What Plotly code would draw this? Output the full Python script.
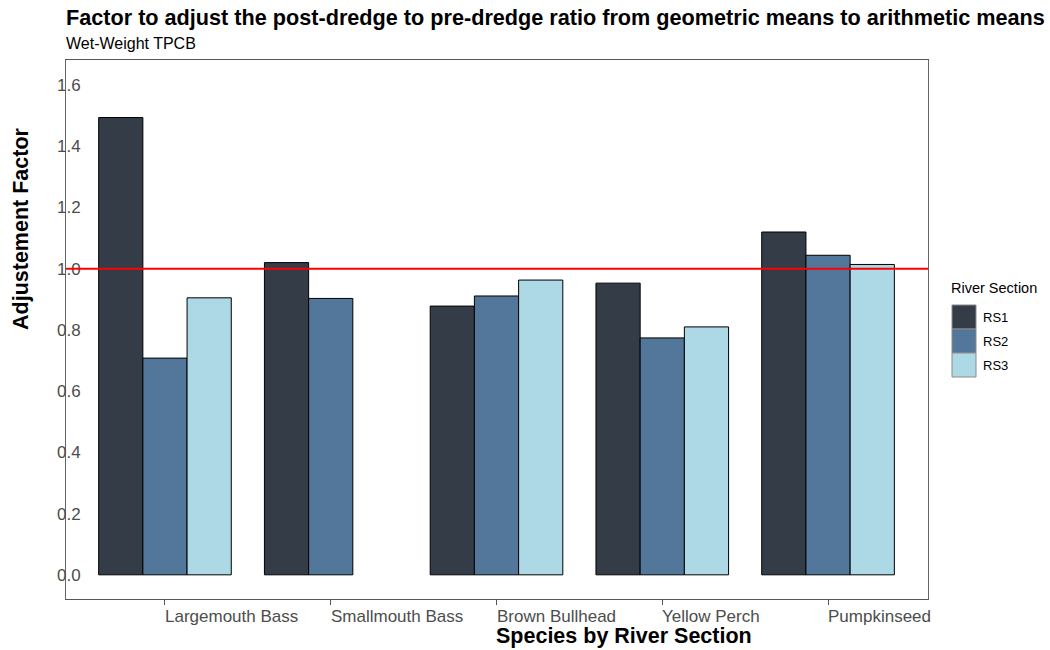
import plotly.graph_objects as go

# Adjustment factors (geometric -> arithmetic) by species and river section
species = ["Largemouth Bass", "Smallmouth Bass", "Brown Bullhead", "Yellow Perch", "Pumpkinseed"]
sections = ["RS1", "RS2", "RS3"]
rs1 = [1.494, 1.020, 0.878, 0.953, 1.120]
rs2 = [0.708, 0.903, 0.911, 0.774, 1.044]
rs3 = [0.905, None, 0.963, 0.810, 1.014]
colors = ["#343d47", "#52779a", "#add8e6"]
y_ticks = [0.0, 0.2, 0.4, 0.6, 0.8, 1.0, 1.2, 1.4, 1.6]
reference_level = 1.0

W, H = 1050, 650
ML, MR, MT, MB = 66, 122, 60, 51
PW, PH = W - ML - MR, H - MT - MB


def px_x(p):
    return (p - ML) / PW


def px_y(p):
    return (H - MB - p) / PH


FONT = "Liberation Sans, Arial, sans-serif"
GREY = "#4d4d4d"

xs = list(range(len(species)))
fig = go.Figure()
for name, vals, col in zip(sections, [rs1, rs2, rs3], colors):
    fig.add_trace(go.Bar(
        x=xs, y=vals, name=name,
        marker=dict(color=col, line=dict(color="black", width=1)),
        showlegend=False,
    ))

fig.update_layout(
    width=W, height=H,
    margin=dict(l=ML, r=MR, t=MT, b=MB),
    paper_bgcolor="white", plot_bgcolor="white",
    barmode="group", bargap=0.2, bargroupgap=0,
    font=dict(family=FONT, color=GREY),
    title=dict(
        text="<b>Factor to adjust the post-dredge to pre-dredge ratio from geometric means to arithmetic means</b>",
        x=ML / W, xanchor="left", xref="container",
        y=1 - 17 / H, yanchor="middle", yref="container",
        font=dict(family=FONT, size=21.65, color="black"),
    ),
)

fig.update_xaxes(
    range=[-0.597, 4.603], tickvals=xs, showticklabels=False,
    ticks="outside", ticklen=5, tickcolor="#555555",
    showline=True, linecolor="#555555", linewidth=1, mirror=True,
    showgrid=False, zeroline=False,
)
fig.update_yaxes(
    range=[-0.079, 1.682], tickvals=y_ticks,
    ticktext=[f"{v:.1f}" for v in y_ticks],
    ticks="", ticklabelstandoff=-19,
    tickfont=dict(size=17, color=GREY),
    showline=True, linecolor="#666666", linewidth=1, mirror=True,
    showgrid=False, zeroline=False,
)

# Reference line at a factor of 1
fig.add_shape(type="line", xref="paper", yref="y", x0=0, x1=1,
              y0=reference_level, y1=reference_level,
              line=dict(color="red", width=2.2), layer="above")

annotations = []
# Species labels, left-aligned at each group's tick
for i, s in enumerate(species):
    annotations.append(dict(
        x=i, xref="x", y=px_y(605), yref="paper",
        text=s, showarrow=False, xanchor="left", yanchor="top",
        xshift=-2, font=dict(size=17, color=GREY, family=FONT),
    ))

annotations += [
    dict(x=px_x(66), y=px_y(43), xref="paper", yref="paper",
         text="Wet-Weight TPCB", showarrow=False, xanchor="left", yanchor="middle",
         xshift=-2, font=dict(size=16, color="black", family=FONT)),
    dict(x=px_x(496), y=px_y(636), xref="paper", yref="paper",
         text="<b>Species by River Section</b>", showarrow=False,
         xanchor="left", yanchor="middle", xshift=-2,
         font=dict(size=21.5, color="black", family=FONT)),
    dict(x=px_x(21), y=px_y(229), xref="paper", yref="paper",
         text="<b>Adjustement Factor</b>", showarrow=False, textangle=-90,
         xanchor="center", yanchor="middle",
         font=dict(size=21.5, color="black", family=FONT)),
    dict(x=px_x(951), y=px_y(288), xref="paper", yref="paper",
         text="River Section", showarrow=False, xanchor="left", yanchor="middle",
         xshift=-2, font=dict(size=14.5, color="black", family=FONT)),
]

# Legend keys
key_top, key_size = 305, 24
for k, (name, col) in enumerate(zip(sections, colors)):
    y0 = key_top + k * key_size
    fig.add_shape(type="rect", xref="paper", yref="paper",
                  x0=px_x(952), x1=px_x(976), y0=px_y(y0), y1=px_y(y0 + key_size),
                  fillcolor=col, line=dict(color="#8a8a8a", width=1))
    annotations.append(dict(
        x=px_x(983), y=px_y(y0 + key_size / 2), xref="paper", yref="paper",
        text=name, showarrow=False, xanchor="left", yanchor="middle", xshift=-2,
        font=dict(size=13, color="black", family=FONT)))

fig.update_layout(annotations=annotations)

fig.write_html("out.html")
